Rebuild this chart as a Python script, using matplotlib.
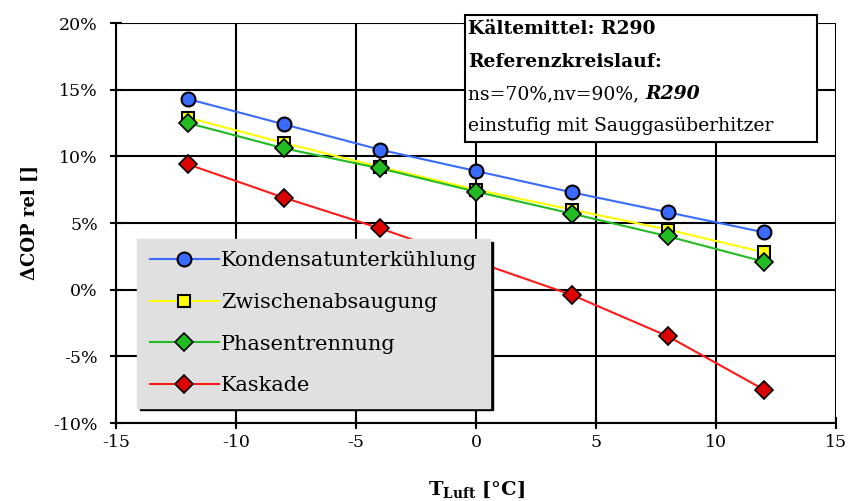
import matplotlib
matplotlib.use("Agg")
import matplotlib.pyplot as plt
from matplotlib.patches import Rectangle
from matplotlib.ticker import FuncFormatter

plt.rcParams['font.family'] = ['DejaVu Serif']
plt.rcParams['axes.unicode_minus'] = False
plt.rcParams['mathtext.fontset'] = 'custom'
plt.rcParams['mathtext.rm'] = 'DejaVu Serif'
plt.rcParams['mathtext.bf'] = 'DejaVu Serif:bold'

# ---- data ----
t_luft = [-12, -8, -4, 0, 4, 8, 12]
kondensat = [14.3, 12.4, 10.5, 8.9, 7.3, 5.8, 4.3]
zwischen = [12.9, 11.0, 9.2, 7.5, 6.0, 4.5, 2.8]
phasen = [12.5, 10.6, 9.1, 7.35, 5.7, 4.0, 2.1]
kaskade = [9.4, 6.9, 4.6, 2.1, -0.4, -3.5, -7.5]
labels = ["Kondensatunterkühlung", "Zwischenabsaugung", "Phasentrennung", "Kaskade"]
xticks = [-15, -10, -5, 0, 5, 10, 15]
yticks = [-10, -5, 0, 5, 10, 15, 20]

fig = plt.figure(figsize=(8.52, 5.01), dpi=100)
ax = fig.add_axes([116/852, 78/501, 720/852, 400/501])

ax.plot(t_luft, kondensat, color='#3a6bff', lw=1.5, marker='o', ms=10,
        mfc='#3a6bff', mec='black', mew=1.5, label=labels[0], zorder=5)
ax.plot(t_luft, zwischen, color='#ffff00', lw=1.5, marker='s', ms=9,
        mfc='#ffff00', mec='black', mew=1.5, label=labels[1], zorder=4)
ax.plot(t_luft, phasen, color='#22bb22', lw=1.5, marker='D', ms=9,
        mfc='#22bb22', mec='black', mew=1.2, label=labels[2], zorder=6)
ax.plot(t_luft, kaskade, color='#ff1a1a', lw=1.5, marker='D', ms=9,
        mfc='#dd0000', mec='black', mew=1.2, label=labels[3], zorder=5)

ax.set_xlim(-15, 15)
ax.set_ylim(-10, 20)
ax.set_xticks(xticks)
ax.set_yticks(yticks)
ax.yaxis.set_major_formatter(FuncFormatter(lambda v, p: f"{v:.0f}%"))
ax.xaxis.set_major_formatter(FuncFormatter(lambda v, p: f"{v:.0f}"))
ax.grid(True, color='black', lw=1.5)
ax.set_axisbelow(True)
for s in ax.spines.values():
    s.set_linewidth(1.5)
    s.set_color('black')
ax.spines['top'].set_visible(False)
ax.spines['right'].set_visible(False)
ax.tick_params(axis='both', direction='inout', length=8, width=1.5,
               labelsize=12.5, colors='black')
ax.tick_params(axis='x', pad=4)
ax.tick_params(axis='y', pad=9)

ax.set_ylabel("ΔCOP rel []", fontsize=13, fontweight='bold')
ax.yaxis.set_label_coords(-0.107, 0.5)
ax.set_xlabel(r"$\mathbf{T}_{\mathbf{Luft}}$ [°C]", fontsize=14, fontweight='bold')
ax.xaxis.set_label_coords(0.5, -0.14)

leg = ax.legend(loc='upper left', bbox_to_anchor=(21/720, 184/400),
                fontsize=15, frameon=True, facecolor='#e0e0e0',
                edgecolor='#e0e0e0', framealpha=1, fancybox=False,
                shadow={'color': 'black', 'alpha': 1},
                handlelength=3.35, labelspacing=1.08, borderpad=0.6,
                handletextpad=0.1, borderaxespad=0)
leg.set_zorder(10)

# info box
tf = fig.transFigure
bx0, by0, bw, bh = 465/852, (501-142)/501, 352/852, 127/501
ax.add_patch(Rectangle((bx0, by0), bw, bh, transform=tf, clip_on=False,
                       facecolor='white', edgecolor='black', lw=1.5, zorder=20))
lines_y = [29, 62, 94, 126]
fs = 13.5
ax.text(bx0 + 3/852, 1 - lines_y[0]/501, "Kältemittel: R290", fontsize=fs,
        fontweight='bold', va='center', ha='left', transform=tf, zorder=21)
ax.text(bx0 + 3/852, 1 - lines_y[1]/501, "Referenzkreislauf:", fontsize=fs,
        fontweight='bold', va='center', ha='left', transform=tf, zorder=21)
t3 = ax.text(bx0 + 3/852, 1 - lines_y[2]/501, "ns=70%,nv=90%, ", fontsize=fs,
             va='center', ha='left', transform=tf, zorder=21)
ax.annotate("R290", xy=(1, 0.5), xycoords=t3, va='center', ha='left',
            fontsize=fs, fontweight='bold', fontstyle='italic',
            annotation_clip=False, zorder=21)
ax.text(bx0 + 3/852, 1 - lines_y[3]/501, "einstufig mit Sauggasüberhitzer",
        fontsize=fs, va='center', ha='left', transform=tf, zorder=21)

fig.savefig("out.png", dpi=100)
